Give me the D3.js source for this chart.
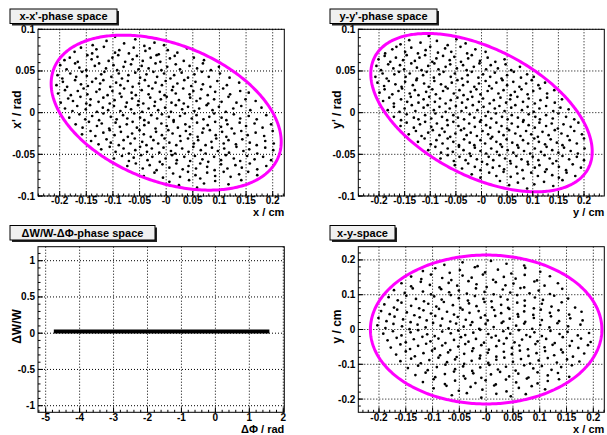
<!DOCTYPE html>
<html>
<head>
<meta charset="utf-8">
<script src="https://cdn.jsdelivr.net/npm/d3@7"></script>
<style>
  body{ margin:0; background:#fff; }
  text{ font-family:"Liberation Sans", Arial, sans-serif; font-weight:bold; fill:#000; }
</style>
</head>
<body>
<div id="chart"></div>
<script>

// ---- Data -------------------------------------------------------------
// Scatter points are stored in milli units: x, y in 1e-3 cm, x', y' in 1e-3 rad.

const xxpPoints = [
  [-138,81],[-112,86],[-96,91],[-79,83],[-58,88],[-41,80],[-22,84],[-4,81],
  [-172,73],[-160,78],[-139,71],[-131,76],[-117,79],[-96,72],[-88,75],[-70,71],[-61,78],[-39,74],[-31,77],[-14,70],[3,75],[21,72],[39,77],
  [-191,63],[-181,66],[-166,61],[-148,69],[-140,64],[-129,67],[-108,62],[-101,66],[-90,69],[-77,61],[-63,64],[-55,68],[-44,62],[-29,66],[-18,69],[-11,61],[7,65],[16,68],[33,62],[52,66],[71,63],
  [-199,57],[-187,52],[-171,59],[-163,54],[-150,51],[-134,56],[-126,59],[-113,53],[-99,57],[-92,51],[-80,55],[-66,58],[-52,52],[-46,56],[-33,53],[-20,59],[-9,51],[2,55],[18,58],[26,52],[44,56],[58,53],[69,59],[84,51],[99,55],
  [-204,45],[-195,41],[-180,47],[-169,43],[-158,49],[-149,44],[-132,41],[-122,46],[-116,49],[-103,43],[-89,47],[-83,41],[-71,45],[-58,48],[-49,42],[-37,46],[-24,49],[-17,43],[-4,47],[8,41],[15,45],[29,48],[41,42],[53,46],[67,49],[80,43],[101,47],[119,42],
  [-206,33],[-194,37],[-186,31],[-171,39],[-160,34],[-147,32],[-139,37],[-124,35],[-118,39],[-105,31],[-94,36],[-86,33],[-72,38],[-63,31],[-51,35],[-40,39],[-33,32],[-20,36],[-8,33],[-1,38],[13,31],[21,35],[34,39],[47,32],[55,37],[69,34],[83,31],[96,38],[114,33],[137,36],
  [-203,23],[-190,27],[-179,21],[-166,26],[-155,29],[-148,22],[-131,25],[-125,28],[-110,21],[-101,26],[-87,23],[-79,29],[-65,24],[-57,21],[-46,27],[-33,22],[-26,29],[-12,25],[-3,21],[11,27],[18,23],[32,29],[44,22],[51,26],[66,28],[78,21],[92,25],[107,29],[120,22],[139,26],[155,24],
  [-198,12],[-184,17],[-175,14],[-161,19],[-150,11],[-142,16],[-127,13],[-118,18],[-106,11],[-97,15],[-84,19],[-74,12],[-64,17],[-52,14],[-43,11],[-30,18],[-21,13],[-10,16],[1,19],[10,12],[24,15],[33,11],[45,18],[57,14],[64,17],[79,11],[90,16],[104,13],[117,19],[132,12],[149,16],[168,14],
  [-190,5],[-176,2],[-167,8],[-151,4],[-143,9],[-130,1],[-119,6],[-109,3],[-98,8],[-86,2],[-76,7],[-66,4],[-53,9],[-45,1],[-33,5],[-22,8],[-15,3],[-2,6],[9,1],[18,9],[30,4],[41,7],[53,2],[62,5],[76,9],[87,3],[99,7],[112,1],[126,5],[141,8],[158,3],[179,6],
  [-182,-6],[-163,-2],[-152,-8],[-139,-4],[-126,-9],[-118,-1],[-104,-5],[-93,-8],[-81,-3],[-73,-7],[-60,-1],[-49,-6],[-41,-9],[-28,-3],[-17,-7],[-8,-2],[5,-5],[14,-9],[26,-4],[35,-1],[48,-7],[57,-3],[70,-8],[81,-5],[90,-1],[104,-6],[113,-9],[127,-2],[139,-7],[155,-4],[170,-8],[188,-3],
  [-170,-14],[-157,-18],[-145,-11],[-130,-16],[-121,-13],[-107,-19],[-95,-12],[-87,-17],[-74,-14],[-63,-11],[-55,-18],[-41,-15],[-33,-12],[-20,-19],[-9,-13],[1,-16],[14,-11],[22,-18],[36,-14],[44,-17],[58,-12],[70,-19],[78,-15],[92,-11],[103,-17],[115,-14],[123,-19],[138,-12],[150,-16],[166,-13],[181,-18],[197,-14],
  [-158,-26],[-142,-22],[-133,-28],[-118,-24],[-106,-21],[-97,-27],[-85,-23],[-72,-29],[-64,-25],[-50,-21],[-42,-26],[-29,-29],[-19,-23],[-8,-27],[4,-21],[12,-25],[26,-28],[37,-22],[45,-26],[59,-29],[68,-24],[82,-21],[93,-27],[105,-23],[113,-29],[128,-25],[141,-22],[153,-27],[168,-24],[184,-28],[200,-22],
  [-141,-34],[-127,-38],[-112,-32],[-104,-36],[-89,-39],[-80,-33],[-67,-37],[-59,-31],[-45,-35],[-37,-39],[-24,-33],[-15,-37],[-3,-31],[6,-36],[19,-39],[27,-34],[41,-31],[52,-37],[60,-33],[74,-39],[85,-35],[94,-31],[108,-37],[117,-33],[131,-38],[143,-32],[157,-36],[170,-39],[186,-34],[202,-37],
  [-122,-44],[-106,-41],[-95,-47],[-80,-43],[-70,-49],[-58,-45],[-49,-41],[-36,-47],[-27,-43],[-13,-48],[-5,-42],[9,-46],[17,-49],[30,-43],[42,-47],[51,-41],[65,-45],[74,-49],[86,-42],[97,-46],[109,-43],[118,-48],[132,-41],[145,-46],[156,-44],[171,-49],[186,-42],[201,-45],
  [-98,-55],[-83,-52],[-70,-58],[-61,-54],[-47,-51],[-35,-57],[-26,-53],[-12,-59],[-1,-55],[11,-51],[20,-57],[34,-53],[45,-58],[54,-52],[68,-56],[79,-59],[90,-53],[103,-57],[112,-51],[127,-55],[139,-58],[152,-52],[166,-56],[182,-53],[197,-57],
  [-73,-64],[-57,-61],[-44,-67],[-31,-63],[-18,-69],[-7,-62],[6,-66],[19,-61],[31,-68],[42,-64],[56,-67],[64,-61],[77,-65],[91,-69],[103,-62],[115,-67],[130,-63],[142,-66],[157,-61],[171,-68],[188,-64],
  [-42,-76],[-22,-72],[-6,-78],[13,-73],[26,-77],[41,-71],[55,-75],[64,-79],[77,-72],[92,-76],[108,-71],[121,-77],[137,-74],[154,-71],[171,-75],
  [6,-83],[24,-87],[43,-81],[58,-90],[71,-85],[92,-82],[117,-86],[141,-81]
];

const yypPoints = [
  [-158,82],[-141,87],[-119,84],[-103,92],[-87,86],[-66,81],[-49,88],[-31,83],
  [-188,71],[-174,76],[-166,79],[-149,73],[-137,78],[-124,71],[-109,75],[-100,79],[-85,72],[-71,77],[-59,73],[-41,79],[-28,71],[-12,76],[8,73],
  [-201,64],[-189,68],[-178,61],[-167,66],[-153,63],[-146,69],[-130,62],[-121,66],[-110,69],[-96,61],[-88,65],[-75,68],[-62,63],[-53,67],[-40,61],[-26,65],[-19,69],[-3,62],[12,66],[27,61],[45,64],
  [-205,56],[-196,51],[-182,58],[-172,53],[-159,57],[-151,52],[-137,59],[-126,54],[-117,51],[-104,56],[-92,59],[-84,52],[-70,55],[-61,58],[-48,53],[-36,57],[-29,51],[-15,55],[-4,59],[9,52],[18,57],[32,53],[47,58],[58,51],[75,55],
  [-207,43],[-193,47],[-185,41],[-170,46],[-161,49],[-148,43],[-140,47],[-126,41],[-114,45],[-107,49],[-93,42],[-82,46],[-74,49],[-60,43],[-52,47],[-38,41],[-27,45],[-19,49],[-6,42],[3,46],[17,43],[26,48],[39,41],[50,45],[63,49],[77,42],[89,46],[102,43],
  [-203,36],[-190,32],[-181,38],[-168,34],[-156,31],[-149,37],[-134,33],[-127,39],[-112,35],[-103,31],[-92,38],[-79,34],[-70,31],[-58,36],[-47,39],[-36,33],[-27,37],[-14,31],[-5,35],[8,38],[15,32],[29,36],[41,39],[50,33],[62,37],[74,31],[87,35],[98,39],[111,33],[124,36],
  [-199,24],[-189,28],[-174,22],[-162,26],[-155,29],[-140,23],[-130,27],[-123,21],[-108,25],[-96,28],[-89,22],[-75,26],[-66,29],[-54,23],[-43,27],[-35,21],[-21,25],[-10,28],[-2,22],[12,26],[20,29],[33,23],[43,27],[57,21],[65,25],[78,28],[90,22],[101,26],[114,29],[128,23],[142,27],
  [-192,14],[-180,18],[-171,11],[-157,16],[-145,13],[-138,19],[-123,12],[-113,16],[-102,19],[-91,13],[-81,17],[-70,11],[-60,15],[-47,18],[-38,12],[-27,16],[-18,19],[-5,13],[3,17],[16,11],[24,15],[37,18],[48,12],[56,16],[70,19],[81,13],[92,17],[104,11],[115,15],[128,18],[143,12],[157,16],
  [-183,3],[-171,7],[-160,1],[-150,5],[-136,9],[-129,2],[-113,6],[-105,9],[-93,3],[-82,7],[-70,1],[-62,5],[-50,8],[-39,2],[-30,6],[-17,9],[-8,3],[4,7],[13,1],[26,5],[35,8],[45,2],[58,6],[66,9],[79,3],[90,7],[102,1],[113,5],[126,8],[140,2],[154,6],[170,4],
  [-171,-5],[-157,-9],[-146,-2],[-132,-6],[-123,-8],[-110,-3],[-98,-7],[-90,-1],[-77,-5],[-67,-9],[-55,-3],[-46,-6],[-34,-8],[-23,-2],[-14,-6],[-1,-9],[8,-4],[19,-7],[28,-1],[40,-5],[51,-8],[59,-3],[71,-6],[82,-9],[92,-2],[105,-5],[114,-8],[126,-3],[139,-7],[150,-1],[165,-5],[181,-8],
  [-158,-16],[-146,-12],[-132,-18],[-120,-14],[-110,-11],[-98,-17],[-87,-13],[-77,-19],[-66,-15],[-55,-11],[-45,-16],[-34,-19],[-24,-13],[-13,-17],[-3,-11],[9,-15],[17,-18],[29,-12],[39,-16],[50,-19],[59,-13],[71,-17],[81,-11],[92,-15],[104,-18],[113,-12],[126,-16],[137,-13],[149,-19],[160,-14],[174,-17],[189,-12],
  [-142,-26],[-128,-22],[-117,-28],[-104,-24],[-95,-21],[-82,-27],[-72,-23],[-61,-29],[-51,-25],[-40,-21],[-29,-27],[-21,-24],[-9,-28],[2,-22],[13,-26],[21,-29],[34,-23],[43,-27],[54,-21],[66,-25],[76,-28],[87,-22],[97,-26],[110,-29],[119,-23],[131,-27],[143,-21],[156,-25],[168,-28],[181,-22],[196,-26],
  [-124,-35],[-111,-31],[-99,-38],[-88,-33],[-76,-37],[-66,-31],[-55,-35],[-44,-39],[-34,-32],[-23,-36],[-14,-39],[-2,-33],[7,-37],[18,-31],[29,-35],[37,-38],[49,-32],[60,-36],[70,-39],[81,-33],[91,-37],[103,-31],[112,-35],[124,-38],[135,-32],[147,-36],[158,-39],[172,-33],[186,-37],[200,-31],
  [-104,-45],[-90,-41],[-79,-48],[-66,-43],[-56,-47],[-44,-41],[-35,-45],[-23,-49],[-13,-42],[-2,-46],[9,-49],[19,-43],[30,-47],[40,-41],[51,-45],[62,-48],[72,-42],[83,-46],[95,-49],[104,-43],[116,-47],[127,-41],[138,-45],[150,-48],[161,-42],[174,-46],[188,-49],[201,-43],
  [-80,-55],[-66,-51],[-54,-58],[-43,-53],[-31,-57],[-21,-52],[-9,-56],[1,-59],[14,-53],[23,-57],[35,-51],[46,-55],[56,-58],[68,-52],[78,-56],[90,-59],[100,-53],[111,-57],[123,-51],[133,-55],[146,-58],[158,-52],[171,-56],[186,-53],[200,-57],
  [-52,-63],[-38,-67],[-26,-61],[-13,-65],[-2,-69],[11,-62],[22,-66],[35,-64],[44,-68],[57,-61],[68,-65],[80,-69],[91,-62],[104,-66],[113,-63],[127,-68],[139,-61],[151,-65],[165,-69],[178,-62],[194,-66],
  [-19,-74],[-2,-78],[15,-72],[29,-76],[43,-71],[57,-77],[70,-73],[82,-79],[97,-72],[110,-76],[124,-71],[138,-75],[151,-78],[166,-72],[183,-76],
  [36,-82],[54,-87],[71,-84],[89,-91],[103,-86],[122,-83],[140,-88],[158,-81]
];

const xyPoints = [
  [-78,186],[-44,193],[-16,182],[9,197],[38,189],[71,184],
  [-118,168],[-95,176],[-68,163],[-49,171],[-21,179],[-2,164],[22,172],[47,161],[73,177],[101,166],
  [-140,152],[-121,145],[-103,158],[-82,148],[-65,142],[-44,155],[-27,149],[-6,158],[13,143],[33,151],[55,146],[72,157],[95,141],[119,153],
  [-158,133],[-140,124],[-122,137],[-105,128],[-87,121],[-70,134],[-54,126],[-33,139],[-18,130],[1,122],[18,136],[36,127],[51,132],[71,121],[90,138],[109,126],[134,133],
  [-172,113],[-152,105],[-137,118],[-118,109],[-103,101],[-84,116],[-69,107],[-51,112],[-36,103],[-19,118],[-3,108],[14,101],[31,115],[45,106],[64,119],[81,104],[98,112],[119,102],[142,117],
  [-182,93],[-165,84],[-149,97],[-131,88],[-116,81],[-97,95],[-83,86],[-66,99],[-51,90],[-34,83],[-21,96],[-5,88],[10,81],[27,94],[40,86],[58,99],[72,83],[91,92],[106,85],[127,97],[153,89],
  [-190,72],[-172,63],[-158,77],[-140,68],[-125,61],[-108,74],[-93,66],[-79,79],[-62,70],[-48,62],[-32,75],[-18,67],[-3,79],[11,64],[28,71],[41,62],[58,77],[72,68],[89,61],[104,74],[122,66],[141,78],[166,63],
  [-196,53],[-180,44],[-166,57],[-148,49],[-134,41],[-117,55],[-103,46],[-88,59],[-73,51],[-60,43],[-44,57],[-31,48],[-14,53],[-2,41],[15,56],[28,47],[43,59],[59,44],[71,52],[88,42],[102,57],[119,48],[135,55],[155,43],[178,51],
  [-201,33],[-186,24],[-171,37],[-155,29],[-141,21],[-124,35],[-111,26],[-95,39],[-82,31],[-67,23],[-53,36],[-38,28],[-26,21],[-10,34],[3,26],[17,39],[32,23],[44,31],[60,37],[73,22],[89,33],[104,27],[121,38],[136,24],[157,32],[180,26],
  [-203,12],[-188,4],[-173,16],[-157,9],[-143,1],[-128,14],[-113,6],[-99,19],[-85,11],[-70,3],[-56,17],[-42,8],[-29,13],[-13,2],[-1,16],[14,7],[29,19],[41,4],[56,11],[71,17],[86,2],[101,13],[118,6],[133,18],[153,9],[176,14],
  [-192,-12],[-174,-5],[-158,-17],[-141,-8],[-127,-2],[-110,-14],[-96,-19],[-82,-6],[-66,-11],[-52,-3],[-39,-16],[-24,-9],[-11,-1],[4,-13],[18,-18],[32,-5],[45,-12],[61,-2],[75,-16],[90,-8],[104,-19],[120,-4],[137,-13],[152,-7],[171,-17],[192,-10],
  [-184,-31],[-167,-24],[-150,-37],[-135,-28],[-119,-21],[-104,-34],[-89,-26],[-76,-39],[-60,-30],[-47,-22],[-33,-35],[-19,-27],[-4,-38],[10,-23],[24,-32],[38,-25],[53,-37],[67,-29],[82,-21],[96,-34],[112,-27],[128,-39],[143,-22],[160,-33],[177,-26],[195,-36],
  [-178,-52],[-160,-43],[-142,-56],[-127,-47],[-112,-41],[-96,-55],[-82,-46],[-67,-59],[-52,-49],[-39,-42],[-24,-54],[-9,-45],[5,-58],[19,-48],[33,-41],[48,-53],[62,-46],[78,-57],[92,-42],[109,-51],[124,-44],[140,-58],[156,-47],[172,-53],[190,-45],
  [-168,-72],[-150,-63],[-133,-77],[-117,-68],[-101,-61],[-86,-74],[-71,-66],[-55,-79],[-41,-70],[-26,-62],[-11,-75],[3,-67],[19,-78],[33,-64],[48,-71],[63,-61],[79,-76],[94,-68],[110,-62],[127,-74],[143,-66],[162,-78],[183,-69],
  [-160,-91],[-140,-84],[-122,-97],[-106,-88],[-89,-81],[-73,-94],[-58,-86],[-41,-99],[-27,-90],[-12,-83],[4,-96],[19,-87],[34,-81],[50,-93],[65,-85],[82,-98],[98,-89],[115,-82],[132,-95],[151,-86],[174,-92],
  [-146,-111],[-127,-104],[-109,-117],[-92,-108],[-76,-101],[-58,-114],[-43,-106],[-26,-119],[-11,-109],[6,-102],[22,-115],[37,-107],[55,-118],[71,-103],[88,-112],[104,-105],[122,-116],[140,-108],[160,-103],
  [-132,-131],[-113,-124],[-95,-137],[-77,-128],[-60,-121],[-42,-134],[-24,-126],[-9,-139],[9,-129],[26,-122],[43,-135],[60,-127],[79,-138],[96,-123],[115,-132],[134,-125],[155,-136],
  [-118,-151],[-98,-143],[-77,-157],[-58,-147],[-39,-141],[-20,-154],[-1,-146],[18,-158],[37,-144],[56,-152],[76,-141],[96,-155],[115,-148],[136,-143],
  [-98,-169],[-74,-162],[-51,-176],[-29,-165],[-7,-173],[15,-161],[38,-178],[61,-168],[85,-163],[110,-172],
  [-64,-189],[-36,-183],[-9,-196],[19,-185],[46,-192],[74,-186]
];

// Longitudinal plane: all particles sit on one thin band.
const dwPhiRange = [-4.76, 1.59];   // rad
const dwValue = 0.022;              // dW/W

// Acceptance ellipses: max extent in each coordinate and correlation.
const xxpEllipse = { a: 0.216, b: 0.093, corr: -0.376 };
const yypEllipse = { a: 0.216, b: 0.095, corr: -0.49 };
const xyEllipse  = { a: 0.216, b: 0.214, corr: 0 };

// Tick values and their labels.
const cmTicks    = [-0.2, -0.15, -0.1, -0.05, 0, 0.05, 0.1, 0.15, 0.2];
const cmLabels   = ['-0.2', '-0.15', '-0.1', '-0.05', '-0', '0.05', '0.1', '0.15', '0.2'];
const radTicks   = [-0.1, -0.05, 0, 0.05, 0.1];
const radLabels  = ['-0.1', '-0.05', '0', '0.05', '0.1'];
const phiTicks   = [-5, -4, -3, -2, -1, 0, 1, 2];
const phiLabels  = ['-5', '-4', '-3', '-2', '-1', '0', '1', '2'];
const dwTicks    = [-1, -0.5, 0, 0.5, 1];
const dwLabels   = ['-1', '-0.5', '0', '0.5', '1'];
const xyTicks    = [-0.2, -0.1, 0, 0.1, 0.2];
const xyLabels   = ['-0.2', '-0.1', '0', '0.1', '0.2'];

// ---- Layout -----------------------------------------------------------
const WIDTH = 607, HEIGHT = 435;
const MAGENTA = '#ff00ff';

const panels = [
  { title: "x-x'-phase space", box: { x: 10, y: 9, w: 107 },
    frame: { l: 38, r: 284.3, t: 29.3, b: 196 },
    xDomain: [-0.2407, 0.2218], yDomain: [-0.1, 0.1],
    xTicks: cmTicks, xLabels: cmLabels, xMinor: 0.01,
    yTicks: radTicks, yLabels: radLabels, yMinor: 0.01,
    xTitle: 'x / cm', yTitle: "x' / rad",
    points: xxpPoints, ellipse: xxpEllipse },
  { title: "y-y'-phase space", box: { x: 330, y: 9, w: 107 },
    frame: { l: 358.3, r: 604.3, t: 29.3, b: 196 },
    xDomain: [-0.2404, 0.2396], yDomain: [-0.1, 0.1],
    xTicks: cmTicks, xLabels: cmLabels, xMinor: 0.01,
    yTicks: radTicks, yLabels: radLabels, yMinor: 0.01,
    xTitle: 'y / cm', yTitle: "y' / rad",
    points: yypPoints, ellipse: yypEllipse },
  { title: '\u0394W/W-\u0394\u03A6-phase space', box: { x: 10, y: 225.5, w: 145 },
    frame: { l: 38, r: 284.3, t: 246.7, b: 412.3 },
    xDomain: [-5.226, 2.03], yDomain: [-1.091, 1.193],
    xTicks: phiTicks, xLabels: phiLabels, xMinor: 0.2,
    yTicks: dwTicks, yLabels: dwLabels, yMinor: 0.1,
    xTitle: '\u0394\u03A6 / rad', yTitle: '\u0394W/W',
    band: true },
  { title: 'x-y-space', box: { x: 330, y: 225.5, w: 65 },
    frame: { l: 358.3, r: 604.3, t: 246.7, b: 412.3 },
    xDomain: [-0.2386, 0.2205], yDomain: [-0.238, 0.238],
    xTicks: cmTicks, xLabels: cmLabels, xMinor: 0.01,
    yTicks: xyTicks, yLabels: xyLabels, yMinor: 0.02,
    xTitle: 'x / cm', yTitle: 'y / cm',
    points: xyPoints, ellipse: xyEllipse }
];

const svg = d3.select('#chart')
  .append('svg')
    .attr('width', WIDTH)
    .attr('height', HEIGHT);

svg.append('rect')
  .attr('width', WIDTH)
  .attr('height', HEIGHT)
  .attr('fill', '#fff');

// Minor tick positions as integer multiples of the step inside the domain.
function minorTicks( domain, step ){
  var lo = Math.ceil( domain[0] / step - 1e-9 );
  var hi = Math.floor( domain[1] / step + 1e-9 );
  return d3.range( lo, hi + 1 ).map( function( i ){ return i * step; } );
}

function drawPanel( p ){
  var f = p.frame;
  var g = svg.append( 'g' );

  var xScale = d3.scaleLinear().domain( p.xDomain ).range( [f.l, f.r] );
  var yScale = d3.scaleLinear().domain( p.yDomain ).range( [f.b, f.t] );

  // Dotted grid at the major ticks.
  g.selectAll( '.gx' )
    .data( p.xTicks )
    .enter()
    .append( 'line' )
      .attr( 'x1', function( d ){ return xScale( d ); } )
      .attr( 'x2', function( d ){ return xScale( d ); } )
      .attr( 'y1', f.t )
      .attr( 'y2', f.b )
      .attr( 'stroke', '#000' )
      .attr( 'stroke-width', 1 )
      .attr( 'stroke-dasharray', '1,2' );
  g.selectAll( '.gy' )
    .data( p.yTicks )
    .enter()
    .append( 'line' )
      .attr( 'x1', f.l )
      .attr( 'x2', f.r )
      .attr( 'y1', function( d ){ return yScale( d ); } )
      .attr( 'y2', function( d ){ return yScale( d ); } )
      .attr( 'stroke', '#000' )
      .attr( 'stroke-width', 1 )
      .attr( 'stroke-dasharray', '1,2' );

  // Scatter markers.
  if( p.points ){
    g.selectAll( 'circle' )
      .data( p.points )
      .enter()
      .append( 'circle' )
        .attr( 'cx', function( d ){ return xScale( d[0] / 1000 ); } )
        .attr( 'cy', function( d ){ return yScale( d[1] / 1000 ); } )
        .attr( 'r', 1.35 )
        .attr( 'fill', '#000' );
  }

  // Thin band of particles in the longitudinal plane.
  if( p.band ){
    g.append( 'line' )
      .attr( 'x1', xScale( dwPhiRange[0] ) )
      .attr( 'x2', xScale( dwPhiRange[1] ) )
      .attr( 'y1', yScale( dwValue ) )
      .attr( 'y2', yScale( dwValue ) )
      .attr( 'stroke', '#000' )
      .attr( 'stroke-width', 4 );
  }

  // Acceptance ellipse.
  if( p.ellipse ){
    var e = p.ellipse;
    var phase = Math.acos( e.corr );
    var angles = d3.range( 0, 361 ).map( function( i ){ return i * Math.PI / 180; } );
    var line = d3.line()
      .x( function( t ){ return xScale( e.a * Math.cos( t ) ); } )
      .y( function( t ){ return yScale( e.b * Math.cos( t + phase ) ); } );
    g.append( 'path' )
      .attr( 'd', line( angles ) )
      .attr( 'fill', 'none' )
      .attr( 'stroke', MAGENTA )
      .attr( 'stroke-width', 3 );
  }

  // Frame.
  g.append( 'rect' )
    .attr( 'x', f.l )
    .attr( 'y', f.t )
    .attr( 'width', f.r - f.l )
    .attr( 'height', f.b - f.t )
    .attr( 'fill', 'none' )
    .attr( 'stroke', '#000' )
    .attr( 'stroke-width', 1 );

  // Ticks point inwards from the bottom and left axes.
  var majorLen = 5, minorLen = 2.5;
  var xmin = minorTicks( p.xDomain, p.xMinor );
  var ymin = minorTicks( p.yDomain, p.yMinor );
  g.selectAll( '.tx' )
    .data( xmin )
    .enter()
    .append( 'line' )
      .attr( 'x1', function( d ){ return xScale( d ); } )
      .attr( 'x2', function( d ){ return xScale( d ); } )
      .attr( 'y1', f.b )
      .attr( 'y2', f.b - minorLen )
      .attr( 'stroke', '#000' );
  g.selectAll( '.tX' )
    .data( p.xTicks )
    .enter()
    .append( 'line' )
      .attr( 'x1', function( d ){ return xScale( d ); } )
      .attr( 'x2', function( d ){ return xScale( d ); } )
      .attr( 'y1', f.b )
      .attr( 'y2', f.b - majorLen )
      .attr( 'stroke', '#000' );
  g.selectAll( '.ty' )
    .data( ymin )
    .enter()
    .append( 'line' )
      .attr( 'x1', f.l )
      .attr( 'x2', f.l + minorLen )
      .attr( 'y1', function( d ){ return yScale( d ); } )
      .attr( 'y2', function( d ){ return yScale( d ); } )
      .attr( 'stroke', '#000' );
  g.selectAll( '.tY' )
    .data( p.yTicks )
    .enter()
    .append( 'line' )
      .attr( 'x1', f.l )
      .attr( 'x2', f.l + majorLen )
      .attr( 'y1', function( d ){ return yScale( d ); } )
      .attr( 'y2', function( d ){ return yScale( d ); } )
      .attr( 'stroke', '#000' );

  // Tick labels.
  g.selectAll( '.lx' )
    .data( p.xTicks )
    .enter()
    .append( 'text' )
      .attr( 'x', function( d ){ return xScale( d ); } )
      .attr( 'y', f.b + 8.2 )
      .attr( 'text-anchor', 'middle' )
      .style( 'font-size', '10px' )
      .text( function( d, i ){ return p.xLabels[i]; } );
  g.selectAll( '.ly' )
    .data( p.yTicks )
    .enter()
    .append( 'text' )
      .attr( 'x', f.l - 3 )
      .attr( 'y', function( d ){ return yScale( d ) + 3.5; } )
      .attr( 'text-anchor', 'end' )
      .style( 'font-size', '10px' )
      .text( function( d, i ){ return p.yLabels[i]; } );

  // Axis titles; the x title sits just under the last tick label.
  g.append( 'text' )
    .attr( 'x', f.r )
    .attr( 'y', f.b + 20.3 )
    .attr( 'text-anchor', 'end' )
    .style( 'font-size', '11px' )
    .text( p.xTitle );
  g.append( 'text' )
    .attr( 'transform', 'translate(' + ( f.l - 17 ) + ',' + ( ( f.t + f.b ) / 2 - 3 ) + ') rotate(-90)' )
    .attr( 'text-anchor', 'middle' )
    .style( 'font-size', '12px' )
    .text( p.yTitle );

  // Title box with shadow.
  var b = p.box, bh = 14.5;
  g.append( 'rect' )
    .attr( 'x', b.x + 2 )
    .attr( 'y', b.y + 2 )
    .attr( 'width', b.w )
    .attr( 'height', bh )
    .attr( 'fill', '#222' );
  g.append( 'rect' )
    .attr( 'x', b.x )
    .attr( 'y', b.y )
    .attr( 'width', b.w )
    .attr( 'height', bh )
    .attr( 'fill', '#f0f0f0' )
    .attr( 'stroke', '#000' )
    .attr( 'stroke-width', 1 );
  g.append( 'text' )
    .attr( 'x', b.x + b.w / 2 )
    .attr( 'y', b.y + bh / 2 + 4 )
    .attr( 'text-anchor', 'middle' )
    .style( 'font-size', '11px' )
    .text( p.title );
}

panels.forEach( drawPanel );

</script>
</body>
</html>
